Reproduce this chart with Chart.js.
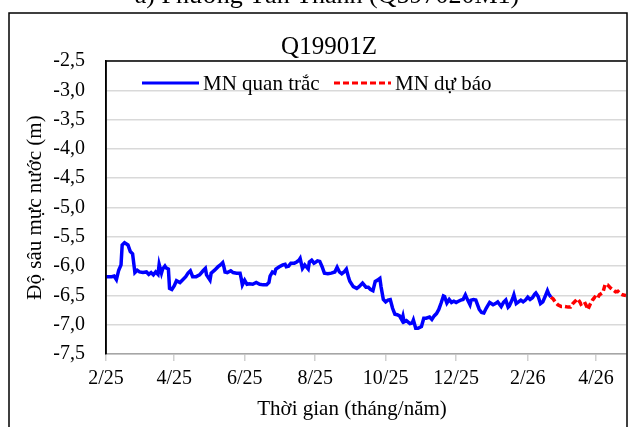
<!DOCTYPE html>
<html>
<head>
<meta charset="utf-8">
<script src="https://cdn.jsdelivr.net/npm/chart.js@4.4.0/dist/chart.umd.min.js"></script>
<style>
  html, body { margin: 0; padding: 0; background: #fff; }
  #wrap { position: relative; width: 639px; height: 427px; }
</style>
</head>
<body>
<div id="wrap"><canvas id="chart" width="639" height="427"></canvas></div>
<script>
// Chart data
const pageTitle = 'a) Phường Tân Thành (Q597020M1)';
const chartTitle = 'Q19901Z';
const yTitle = 'Độ sâu mực nước (m)';
const xTitle = 'Thời gian (tháng/năm)';
const startDate = '2025-02-01';
const endDay = 450;
const tickDates = ['2025-02-01', '2025-04-01', '2025-06-01', '2025-08-01', '2025-10-01', '2025-12-01', '2026-02-01', '2026-04-01'];
const tickLabels = ['2/25', '4/25', '6/25', '8/25', '10/25', '12/25', '2/26', '4/26'];

// Observed series: day offset from startDate, depth (m)
const obsDay = [
    0, 5, 7, 9, 11, 13, 14, 16, 19, 21, 23, 25, 27, 29, 32, 35, 37, 39, 41, 43,
    45, 46, 48, 49, 51, 52, 54, 55, 57, 59, 61, 64, 66, 69, 71, 73, 75, 78, 81, 84,
    86, 87, 90, 91, 94, 97, 99, 101, 102, 103, 105, 108, 110, 113, 116, 117, 118, 120, 122, 124,
    127, 130, 133, 136, 139, 141, 142, 144, 146, 147, 150, 153, 155, 156, 158, 160, 163, 165, 167, 168,
    170, 172, 175, 176, 178, 180, 181, 183, 185, 187, 189, 192, 195, 198, 200, 202, 204, 206, 208, 210,
    211, 214, 217, 219, 222, 225, 227, 229, 231, 233, 235, 237, 238, 240, 242, 244, 246, 248, 250, 252,
    254, 256, 257, 258, 260, 263, 265, 266, 268, 270, 273, 275, 277, 280, 282, 284, 286, 288, 290, 292,
    293, 295, 297, 299, 301, 303, 305, 307, 309, 311, 313, 315, 316, 318, 320, 323, 325, 327, 329, 332,
    335, 337, 339, 342, 344, 346, 348, 349, 352, 353, 355, 357, 359, 361, 363, 365, 367, 369, 371, 372,
    374, 376, 378, 380, 382, 383, 385
];
const obsVal = [
    -6.18, -6.18, -6.17, -6.23, -6.07, -5.98, -5.64, -5.60, -5.64, -5.75, -5.79, -6.11, -6.07, -6.10, -6.11, -6.10, -6.14, -6.11, -6.15, -6.10,
    -6.14, -5.97, -6.12, -6.05, -6.00, -6.03, -6.05, -6.38, -6.40, -6.34, -6.25, -6.28, -6.24, -6.18, -6.12, -6.08, -6.18, -6.18, -6.15, -6.08,
    -6.04, -6.15, -6.24, -6.12, -6.07, -6.01, -5.98, -5.94, -6.01, -6.10, -6.11, -6.08, -6.11, -6.12, -6.12, -6.21, -6.32, -6.24, -6.31, -6.30,
    -6.31, -6.28, -6.31, -6.32, -6.32, -6.28, -6.17, -6.10, -6.12, -6.05, -6.01, -5.98, -5.97, -6.01, -6.00, -5.95, -5.95, -5.93, -5.90, -5.87,
    -6.04, -5.98, -6.05, -5.93, -5.90, -5.95, -5.94, -5.91, -5.92, -6.01, -6.12, -6.13, -6.12, -6.10, -6.02, -6.10, -6.13, -6.10, -6.05, -6.20,
    -6.26, -6.35, -6.38, -6.35, -6.29, -6.36, -6.36, -6.40, -6.42, -6.26, -6.24, -6.21, -6.35, -6.57, -6.61, -6.58, -6.57, -6.72, -6.82, -6.83,
    -6.85, -6.92, -6.85, -6.95, -6.93, -6.98, -6.97, -6.92, -7.06, -7.06, -7.03, -6.89, -6.89, -6.87, -6.91, -6.85, -6.81, -6.74, -6.63, -6.51,
    -6.52, -6.63, -6.57, -6.62, -6.60, -6.62, -6.60, -6.58, -6.57, -6.49, -6.58, -6.66, -6.58, -6.57, -6.58, -6.74, -6.79, -6.80, -6.72, -6.62,
    -6.66, -6.64, -6.61, -6.69, -6.62, -6.58, -6.70, -6.68, -6.55, -6.49, -6.64, -6.61, -6.58, -6.61, -6.58, -6.53, -6.57, -6.54, -6.48, -6.46,
    -6.52, -6.64, -6.61, -6.52, -6.42, -6.47, -6.53
];

// Forecast series
const fcDay = [385, 387, 389, 391, 394, 397, 400, 402, 404, 406, 408, 410, 411, 414, 416, 417, 419, 421, 423, 425, 427, 430, 431, 432, 434, 437, 439, 441, 443, 445, 447, 450];
const fcVal = [-6.53, -6.56, -6.62, -6.66, -6.69, -6.69, -6.70, -6.70, -6.64, -6.60, -6.56, -6.61, -6.65, -6.61, -6.69, -6.74, -6.65, -6.58, -6.53, -6.56, -6.49, -6.45, -6.38, -6.31, -6.32, -6.38, -6.41, -6.44, -6.43, -6.47, -6.49, -6.50];

const FONT = '"Liberation Serif", "Times New Roman", serif';
const DAY = 24 * 3600 * 1000;
const t0 = Date.parse(startDate);
const tickDays = tickDates.map(d => Math.round((Date.parse(d) - t0) / DAY));

const toPoints = (xs, ys) => xs.map((x, i) => ({ x: x, y: ys[i] }));

// Draw titles, frame and the in-plot legend
const decorPlugin = {
    id: 'decor',
    afterDraw(chart) {
        const ctx = chart.ctx;
        const area = chart.chartArea;
        ctx.save();
        ctx.fillStyle = '#000';
        ctx.textAlign = 'center';
        ctx.textBaseline = 'alphabetic';

        ctx.font = '26px ' + FONT;
        ctx.fillText(pageTitle, 327, 3);

        ctx.font = '25px ' + FONT;
        ctx.fillText(chartTitle, 329, 54);

        ctx.font = '21px ' + FONT;
        ctx.fillText(xTitle, 352, 415);

        ctx.save();
        ctx.translate(35, (area.top + area.bottom) / 2);
        ctx.rotate(-Math.PI / 2);
        ctx.textBaseline = 'middle';
        ctx.fillText(yTitle, 0, 0);
        ctx.restore();

        // plot border: top and left black
        ctx.strokeStyle = '#000';
        ctx.lineWidth = 1.5;
        ctx.beginPath();
        ctx.moveTo(area.left, area.bottom);
        ctx.lineTo(area.left, area.top);
        ctx.lineTo(area.right, area.top);
        ctx.stroke();

        // outer frame
        ctx.lineWidth = 1.5;
        ctx.strokeRect(9, 13, 618, 430);

        // legend
        const items = [
            { ds: chart.data.datasets[0], x: 142, len: 57 },
            { ds: chart.data.datasets[1], x: 334, len: 57 }
        ];
        ctx.font = '21px ' + FONT;
        ctx.textAlign = 'left';
        ctx.textBaseline = 'middle';
        items.forEach(it => {
            ctx.save();
            ctx.strokeStyle = it.ds.borderColor;
            ctx.lineWidth = 3;
            ctx.setLineDash(it.ds.borderDash || []);
            ctx.beginPath();
            ctx.moveTo(it.x, 83);
            ctx.lineTo(it.x + it.len, 83);
            ctx.stroke();
            ctx.restore();
            ctx.fillText(it.ds.label, it.x + it.len + 4, 84);
        });
        ctx.restore();
    }
};

const ctx = document.getElementById('chart').getContext('2d');
const chart = new Chart(ctx, {
    type: 'line',
    data: {
        datasets: [
            {
                label: 'MN quan trắc',
                data: toPoints(obsDay, obsVal),
                borderColor: '#0000ff',
                borderWidth: 3.5,
                pointRadius: 0,
                tension: 0
            },
            {
                label: 'MN dự báo',
                data: toPoints(fcDay, fcVal),
                borderColor: '#ff0000',
                borderWidth: 3.5,
                borderDash: [6, 3],
                pointRadius: 0,
                tension: 0
            }
        ]
    },
    options: {
        responsive: false,
        animation: false,
        layout: { padding: { left: 0, top: 61, right: 13, bottom: 0 } },
        plugins: {
            legend: { display: false },
            tooltip: { enabled: false },
            title: { display: false }
        },
        scales: {
            x: {
                type: 'linear',
                min: 0,
                max: endDay,
                afterFit: (scale) => { scale.height = 73; },
                afterBuildTicks: (scale) => {
                    scale.ticks = tickDays.map(v => ({ value: v }));
                },
                ticks: {
                    color: '#000',
                    font: { family: FONT, size: 20 },
                    padding: 6,
                    maxRotation: 0,
                    autoSkip: false,
                    callback: (value) => tickLabels[tickDays.indexOf(value)]
                },
                grid: {
                    drawOnChartArea: false,
                    drawTicks: true,
                    tickLength: 7,
                    color: '#d0d0d0',
                    lineWidth: 1.5
                },
                border: { color: '#a6a6a6', width: 1.5 }
            },
            y: {
                min: -7.5,
                max: -2.5,
                afterFit: (scale) => { scale.width = 106; },
                ticks: {
                    stepSize: 0.5,
                    color: '#000',
                    font: { family: FONT, size: 20 },
                    padding: 21,
                    callback: (value) => value.toFixed(1).replace('.', ',')
                },
                grid: {
                    drawTicks: false,
                    color: '#d9d9d9',
                    lineWidth: 1.5
                },
                border: { color: '#000', width: 1.5 }
            }
        }
    },
    plugins: [decorPlugin]
});
</script>
</body>
</html>
